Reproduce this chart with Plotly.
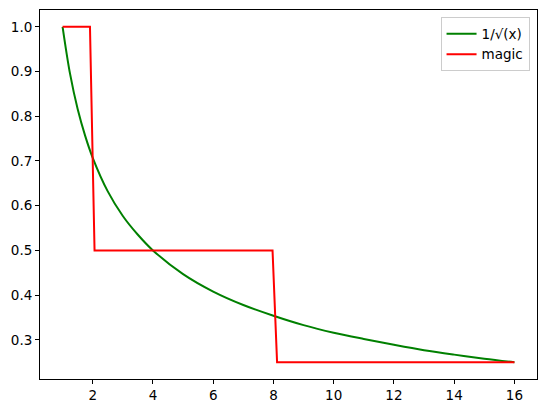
import plotly.graph_objects as go

# 1/sqrt(x) curve, values
curve_x = [1, 1.25, 1.5, 1.75, 2, 2.5, 3, 3.5, 4, 5, 6, 7, 8, 9, 10, 11, 12, 13, 14, 15, 16]
curve_y = [1.000, 0.894, 0.816, 0.756, 0.707, 0.632, 0.577, 0.535, 0.500, 0.447, 0.408,
           0.378, 0.354, 0.333, 0.316, 0.302, 0.289, 0.277, 0.267, 0.258, 0.250]

# "magic" step series
magic_x = [1, 1.909, 2.061, 7.970, 8.121, 16]
magic_y = [1.0, 1.0, 0.5, 0.5, 0.25, 0.25]

x_ticks = [2, 4, 6, 8, 10, 12, 14, 16]
y_ticks = [0.3, 0.4, 0.5, 0.6, 0.7, 0.8, 0.9, 1.0]

fig = go.Figure()
fig.add_trace(go.Scatter(x=curve_x, y=curve_y, mode="lines", name="1/√(x)",
                         line=dict(color="green", width=2, shape="spline")))
fig.add_trace(go.Scatter(x=magic_x, y=magic_y, mode="lines", name="magic",
                         line=dict(color="red", width=2)))

axis_common = dict(showline=True, linecolor="black", linewidth=1, mirror=True,
                   ticks="outside", ticklen=4, tickcolor="black", showgrid=False,
                   zeroline=False, automargin=False,
                   tickfont=dict(family="DejaVu Sans", size=13.5, color="black"))

# page body adds an 8px offset, so the figure is sized to fit the window
fig.update_layout(
    width=541, height=400,
    margin=dict(l=32, r=12, t=2, b=29),
    paper_bgcolor="white", plot_bgcolor="white",
    font=dict(family="DejaVu Sans", size=13.5, color="black"),
    xaxis=dict(range=[0.25, 16.75], tickvals=x_ticks, **axis_common),
    yaxis=dict(range=[0.2125, 1.0375], tickvals=y_ticks, tickformat=".1f", **axis_common),
    legend=dict(x=0.985, y=0.98, xanchor="right", yanchor="top",
                bgcolor="rgba(255,255,255,0.8)", bordercolor="#cccccc", borderwidth=1,
                font=dict(family="DejaVu Sans", size=13.5, color="black")),
    showlegend=True,
)

fig.write_html("out.html")
